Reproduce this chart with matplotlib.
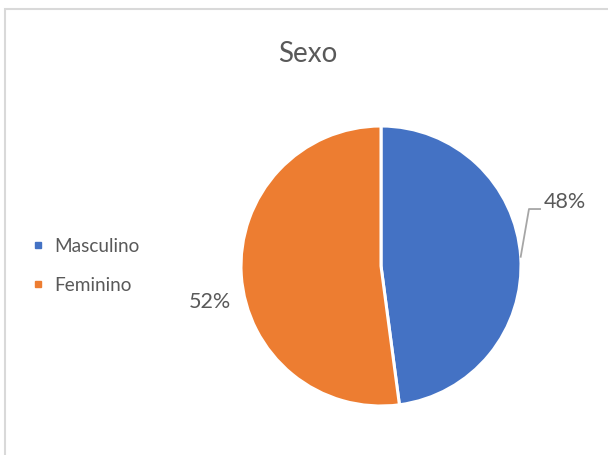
import matplotlib
matplotlib.use("Agg")
from matplotlib import pyplot as plt
from matplotlib.lines import Line2D
from matplotlib.patches import Rectangle
import numpy as np

# chart data
title = "Sexo"
labels = ["Masculino", "Feminino"]
shares = [47.9, 52.1]
colors = ["#4472C4", "#ED7D31"]
pct_text = ["48%", "52%"]

plt.rcParams['font.family'] = ['Lato', 'DejaVu Sans']
textGray = "#595959"

W, H = 608, 455
fig = plt.figure(figsize=(W / 100, H / 100), dpi=100)

# pie centre / radius in pixels, axes covers whole figure (radius 1 = R px)
cx, cy, R = 381, 266, 140
ax = fig.add_axes([0, 0, 1, 1])

wedges, _ = ax.pie(shares, colors=colors, startangle=90, counterclock=False,
                   radius=1, wedgeprops=dict(edgecolor='white', linewidth=2.2))

# pie() resets the limits, so set them afterwards
ax.set_xlim(-cx / R, (W - cx) / R)
ax.set_ylim(-(H - cy) / R, cy / R)
ax.set_aspect('equal')
ax.axis('off')

# 48% label with leader line
w = wedges[0]
mid = np.deg2rad((w.theta1 + w.theta2) / 2)
x0, y0 = np.cos(mid), np.sin(mid)
ax.plot([x0, 1.057, 1.136], [y0, 0.407, 0.407], color="#A6A6A6", lw=1.3,
        clip_on=False)
ax.text(1.314, 0.46, pct_text[0], ha='center', va='center',
        fontsize=15.5, color=textGray)

# 52% label
ax.text(-1.225, -0.26, pct_text[1], ha='center', va='center',
        fontsize=15.5, color=textGray)

# title
fig.text(308 / W, 1 - 62 / H, title, ha='center', va='baseline',
         fontsize=20, color=textGray)

# legend
handles = [Line2D([], [], marker='s', linestyle='', markersize=4.2,
                  markerfacecolor=c, markeredgecolor=c) for c in colors]
fig.legend(handles, labels, loc='center left',
           bbox_to_anchor=(32 / W, 1 - 266 / H), frameon=False,
           fontsize=13.7, labelcolor=textGray, handlelength=0.6,
           handletextpad=0.55, labelspacing=1.15, borderpad=0,
           borderaxespad=0)

# chart area border (only top and left visible)
fig.patches.append(Rectangle((5 / W, -0.2), 2, 1.2 - 9 / H,
                             transform=fig.transFigure, fill=False,
                             edgecolor="#D9D9D9", linewidth=1.5))

fig.savefig("out.png", dpi=100)
